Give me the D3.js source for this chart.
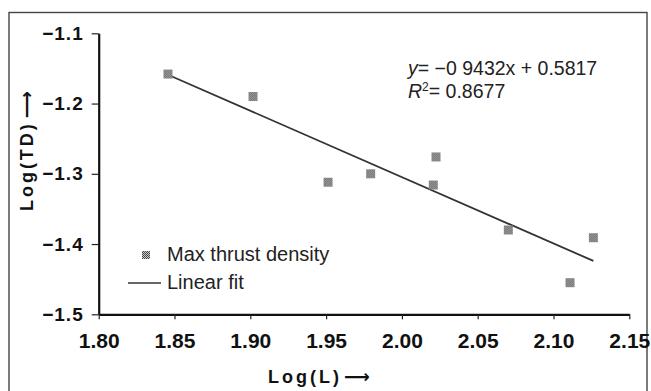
<!DOCTYPE html>
<html>
<head>
<meta charset="utf-8">
<script src="https://cdn.jsdelivr.net/npm/d3@7"></script>
<style>
  body { margin: 0; background: #fff; }
  svg { display: block; }
</style>
</head>
<body>
<div id="chart"></div>
<script>
// Data
const logL  = [1.8457, 1.9018, 1.9513, 1.9794, 2.0207, 2.0225, 2.0702, 2.1109, 2.1263];
const logTD = [-1.158, -1.190, -1.312, -1.300, -1.316, -1.276, -1.380, -1.455, -1.391];
const fitX  = [1.8457, 2.1263];
const fitY  = [-1.159, -1.424];
const xTicks = [1.80, 1.85, 1.90, 1.95, 2.00, 2.05, 2.10, 2.15];
const yTicks = [-1.5, -1.4, -1.3, -1.2, -1.1];
const legendNames = ["Max thrust density", "Linear fit"];

function createScatter() {
    const W = 651, H = 391;
    const margin = { top: 33.3, right: 21.7, bottom: 76.7, left: 98.7 };
    const width = W - margin.left - margin.right;
    const height = H - margin.top - margin.bottom;

    const svg = d3.select("#chart").append("svg")
        .attr("width", W)
        .attr("height", H);

    // checkered fill like the printed markers
    const pat = svg.append("defs").append("pattern")
        .attr("id", "chk")
        .attr("width", 2).attr("height", 2)
        .attr("patternUnits", "userSpaceOnUse");
    pat.append("rect").attr("width", 2).attr("height", 2).attr("fill", "#c4c4c4");
    pat.append("rect").attr("width", 1).attr("height", 1).attr("fill", "#4a4a4a");
    pat.append("rect").attr("x", 1).attr("y", 1).attr("width", 1).attr("height", 1).attr("fill", "#4a4a4a");

    // outer frame of the figure
    svg.append("rect")
        .attr("x", 9).attr("y", 12.5)
        .attr("width", 638).attr("height", 400)
        .attr("fill", "none")
        .attr("stroke", "#444")
        .attr("stroke-width", 1.4);

    const g = svg.append("g")
        .attr("transform", `translate(${margin.left},${margin.top})`);

    const xScale = d3.scaleLinear().domain([1.80, 2.15]).range([0, width]);
    const yScale = d3.scaleLinear().domain([-1.5, -1.1]).range([height, 0]);

    // axes
    const xAxis = g.append("g")
        .attr("transform", `translate(0,${height})`)
        .call(d3.axisBottom(xScale).tickValues(xTicks).tickFormat(d3.format(".2f"))
            .tickSizeInner(5).tickSizeOuter(0).tickPadding(10));
    xAxis.select(".domain").attr("stroke", "#111").attr("stroke-width", 2.2);
    xAxis.selectAll(".tick line").attr("stroke", "#222").attr("stroke-width", 1.2);
    xAxis.selectAll(".tick text")
        .attr("fill", "#111")
        .attr("dy", "0.9em")
        .style("font-family", "'Liberation Sans Narrow', 'Arial Narrow', 'Liberation Sans', Arial, sans-serif")
        .style("font-weight", "bold")
        .style("font-size", "21px");

    const yAxis = g.append("g")
        .call(d3.axisLeft(yScale).tickValues(yTicks).tickFormat(d => d3.format(".1f")(d).replace("-", "−"))
            .tickSizeInner(7).tickSizeOuter(0).tickPadding(8));
    yAxis.select(".domain").attr("stroke", "#111").attr("stroke-width", 2.2);
    yAxis.selectAll(".tick line").attr("stroke", "#222").attr("stroke-width", 1.2);
    yAxis.selectAll(".tick text")
        .attr("fill", "#111")
        .style("font-family", "'Liberation Sans Narrow', 'Arial Narrow', 'Liberation Sans', Arial, sans-serif")
        .style("font-weight", "bold")
        .style("font-size", "19px")
        .style("letter-spacing", "1px");

    // axis titles
    const xTitle = svg.append("text")
        .attr("x", 319).attr("y", 383)
        .attr("text-anchor", "middle")
        .style("font-family", "'Liberation Sans', Arial, sans-serif")
        .style("font-weight", "bold")
        .style("font-size", "18px")
        .attr("fill", "#111");
    xTitle.append("tspan").style("letter-spacing", "3px").text("Log(L)");
    xTitle.append("tspan").style("font-family", "'DejaVu Sans', sans-serif").style("font-size", "18px").attr("dx", 2).text("⟶");

    const yTitle = svg.append("text")
        .attr("transform", "translate(33,151) rotate(-90)")
        .attr("text-anchor", "middle")
        .style("font-family", "'Liberation Sans', Arial, sans-serif")
        .style("font-weight", "bold")
        .style("font-size", "18px")
        .attr("fill", "#111");
    yTitle.append("tspan").style("letter-spacing", "3px").text("Log(TD)");
    yTitle.append("tspan").style("font-family", "'DejaVu Sans', sans-serif").style("font-size", "19px").attr("dx", 3).text("⟶");

    // linear fit
    const fitPts = fitX.map((x, i) => [x, fitY[i]]);
    g.append("path")
        .datum(fitPts)
        .attr("d", d3.line().x(d => xScale(d[0])).y(d => yScale(d[1])))
        .attr("fill", "none")
        .attr("stroke", "#333")
        .attr("stroke-width", 1.8);

    // data markers
    const pts = logL.map((x, i) => ({ x: x, y: logTD[i] }));
    const s = 9;
    g.selectAll(".pt")
        .data(pts)
        .enter().append("rect")
        .attr("class", "pt")
        .attr("x", d => xScale(d.x) - s / 2)
        .attr("y", d => yScale(d.y) - s / 2)
        .attr("width", s).attr("height", s)
        .attr("fill", "url(#chk)");

    // equation
    const eq = svg.append("text")
        .attr("x", 408).attr("y", 75)
        .style("font-family", "'Liberation Sans', Arial, sans-serif")
        .style("font-size", "19.5px")
        .attr("fill", "#222");
    eq.append("tspan").style("font-style", "italic").text("y");
    eq.append("tspan").text("= −0 9432x + 0.5817");
    const r2 = svg.append("text")
        .attr("x", 408).attr("y", 98)
        .style("font-family", "'Liberation Sans', Arial, sans-serif")
        .style("font-size", "19.5px")
        .attr("fill", "#222");
    r2.append("tspan").style("font-style", "italic").text("R");
    r2.append("tspan").attr("dy", -7).style("font-size", "12px").text("2");
    r2.append("tspan").attr("dy", 7).text("= 0.8677");

    // legend
    const lg = svg.append("g");
    lg.append("rect")
        .attr("x", 142).attr("y", 251)
        .attr("width", 8).attr("height", 8)
        .attr("fill", "url(#chk)");
    lg.append("line")
        .attr("x1", 128).attr("x2", 161)
        .attr("y1", 283).attr("y2", 283)
        .attr("stroke", "#333").attr("stroke-width", 1.6);
    lg.selectAll(".lt")
        .data(legendNames)
        .enter().append("text")
        .attr("class", "lt")
        .attr("x", 167)
        .attr("y", (d, i) => 261 + i * 28)
        .style("font-family", "'Liberation Sans', Arial, sans-serif")
        .style("font-size", "20px")
        .attr("fill", "#222")
        .text(d => d);
}

createScatter();
</script>
</body>
</html>
